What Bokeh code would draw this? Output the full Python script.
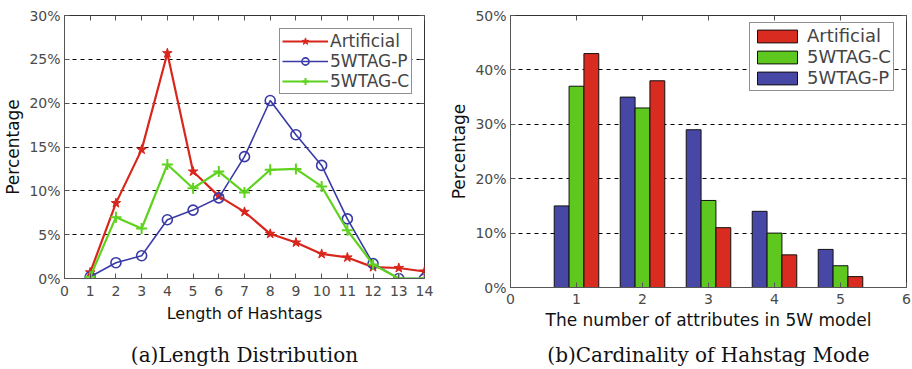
from bokeh.plotting import figure
from bokeh.layouts import row, column
from bokeh.models import (ColumnDataSource, FixedTicker, PrintfTickFormatter, LinearAxis,
                          Range1d, Legend, LegendItem)
from bokeh.transform import dodge
from bokeh.embed import file_html
from bokeh.resources import INLINE

# ---- (a) length distribution of hashtags (percent) ----
lengths = list(range(1, 15))
artificial_len = [0.7, 8.6, 14.7, 25.7, 12.2, 9.4, 7.6, 5.1, 4.1, 2.8, 2.4, 1.3, 1.2, 0.8]
p_len = [0.2, 1.8, 2.6, 6.7, 7.8, 9.2, 13.9, 20.3, 16.4, 12.9, 6.8, 1.7, 0.0, 0.0]
c_len = [0.2, 7.0, 5.7, 13.0, 10.3, 12.2, 9.8, 12.4, 12.5, 10.5, 5.5, 1.6, 0.0, 0.0]

# ---- (b) number of 5W attributes per hashtag (percent) ----
attr_counts = [1, 2, 3, 4, 5]
artificial_attr = [43, 38, 11, 6, 2]
c_attr = [37, 33, 16, 10, 4]
p_attr = [15, 35, 29, 14, 7]

RED = "#d8261c"
BLUE = "#3a3aa8"
GREEN = "#5fd21e"
BAR_RED = "#d92b1f"
BAR_GREEN = "#5ec81f"
BAR_BLUE = "#4747a6"

SANS = "DejaVu Sans"
CAPTION_FONT = "DejaVu Serif"


def style_axes(p, xticks, yticks, xlabel, xlabel_size, tick_standoff, label_standoff):
    xa = p.below[0]
    ya = p.left[0]
    xa.ticker = FixedTicker(ticks=xticks)
    ya.ticker = FixedTicker(ticks=yticks)
    ya.formatter = PrintfTickFormatter(format="%d%%")
    for ax in (xa, ya):
        ax.major_tick_in = 5
        ax.major_tick_out = 0
        ax.minor_tick_line_color = None
        ax.axis_line_color = "#555555"
        ax.major_tick_line_color = "#555555"
        ax.major_label_text_font = SANS
        ax.major_label_text_font_size = "14px"
        ax.major_label_text_color = "#4a4a4a"
        ax.axis_label_text_font = SANS
        ax.axis_label_text_font_style = "normal"
        ax.axis_label_text_color = "#111111"
    xa.major_label_standoff = tick_standoff
    ya.major_label_standoff = 4
    xa.axis_label = xlabel
    xa.axis_label_text_font_size = xlabel_size
    xa.axis_label_standoff = label_standoff
    ya.axis_label = "Percentage"
    ya.axis_label_text_font_size = "17px"
    ya.axis_label_standoff = 3
    # tick marks on the top and right edges of the box
    top = LinearAxis(ticker=FixedTicker(ticks=xticks), major_tick_in=5, major_tick_out=0,
                     major_label_text_font_size="0px", minor_tick_line_color=None,
                     axis_line_color=None, major_tick_line_color="#555555")
    right = LinearAxis(ticker=FixedTicker(ticks=yticks), major_tick_in=5, major_tick_out=0,
                       major_label_text_font_size="0px", minor_tick_line_color=None,
                       axis_line_color=None, major_tick_line_color="#555555")
    p.add_layout(top, "above")
    p.add_layout(right, "right")
    p.xgrid.grid_line_color = None
    p.ygrid.grid_line_color = "black"
    p.ygrid.grid_line_dash = "4 4"
    p.ygrid.grid_line_width = 1
    p.outline_line_color = "#333333"
    p.outline_line_width = 1


def caption(p, text, standoff):
    # sub-figure caption drawn as the label of a bare axis under the x axis
    cap = LinearAxis(ticker=FixedTicker(ticks=[]), major_tick_in=0, major_tick_out=0,
                     major_label_text_font_size="0px", major_label_standoff=0,
                     minor_tick_line_color=None, axis_line_color=None,
                     major_tick_line_color=None, axis_label=text,
                     axis_label_text_font=CAPTION_FONT, axis_label_text_font_size="20px",
                     axis_label_text_font_style="normal", axis_label_text_color="#111111",
                     axis_label_standoff=standoff)
    p.add_layout(cap, "below")


# ------------------------- (a) line chart -------------------------
p1 = figure(width=446, height=369, output_backend="svg", toolbar_location=None,
            x_range=Range1d(0, 14), y_range=Range1d(0, 30),
            min_border_left=63, min_border_right=22, min_border_top=15, min_border_bottom=91)
style_axes(p1, list(range(0, 15)), [0, 5, 10, 15, 20, 25, 30], "Length of Hashtags",
           "16px", 7, 5)
caption(p1, "(a)Length Distribution", 17)

src1 = ColumnDataSource(dict(x=lengths, a=artificial_len, p=p_len, c=c_len))
la = p1.line("x", "a", source=src1, line_color=RED, line_width=2.2)
ma = p1.scatter("x", "a", source=src1, marker="star", size=10, fill_color=RED, line_color=RED)
lp = p1.line("x", "p", source=src1, line_color=BLUE, line_width=1.6)
mp = p1.scatter("x", "p", source=src1, marker="circle", size=10, fill_color=None,
                line_color=BLUE, line_width=1.6)
lc = p1.line("x", "c", source=src1, line_color=GREEN, line_width=2.2)
mc = p1.scatter("x", "c", source=src1, marker="cross", size=11, line_color=GREEN, line_width=2)

leg1 = Legend(items=[LegendItem(label="Artificial", renderers=[la, ma]),
                     LegendItem(label="5WTAG-P", renderers=[lp, mp]),
                     LegendItem(label="5WTAG-C", renderers=[lc, mc])],
              location=(215, 184), glyph_width=46, glyph_height=18, label_height=18,
              label_text_font=SANS, label_text_font_size="17px",
              label_standoff=2, spacing=0, padding=2, margin=0,
              border_line_color="#222222", border_line_width=1.5,
              background_fill_alpha=1)
p1.add_layout(leg1)

# ------------------------- (b) bar chart -------------------------
p2 = figure(width=466, height=369, output_backend="svg", toolbar_location=None,
            x_range=Range1d(0, 6), y_range=Range1d(0, 50),
            min_border_left=63, min_border_right=6, min_border_top=15, min_border_bottom=82)
style_axes(p2, list(range(0, 7)), [0, 10, 20, 30, 40, 50],
           "The number of attributes in 5W model", "17px", 6, 3)
caption(p2, "(b)Cardinality of Hahstag Mode", 10)

src2 = ColumnDataSource(dict(x=attr_counts, a=artificial_attr, c=c_attr, p=p_attr))
w = 0.225
bp = p2.vbar(x=dodge("x", -w, range=p2.x_range), top="p", width=w, source=src2,
             fill_color=BAR_BLUE, line_color="#111111", line_width=1)
bc = p2.vbar(x=dodge("x", 0, range=p2.x_range), top="c", width=w, source=src2,
             fill_color=BAR_GREEN, line_color="#111111", line_width=1)
ba = p2.vbar(x=dodge("x", w, range=p2.x_range), top="a", width=w, source=src2,
             fill_color=BAR_RED, line_color="#111111", line_width=1)

leg2 = Legend(items=[LegendItem(label="Artificial", renderers=[ba]),
                     LegendItem(label="5WTAG-C", renderers=[bc]),
                     LegendItem(label="5WTAG-P", renderers=[bp])],
              location=(239, 196), glyph_width=50, glyph_height=16, label_height=16,
              label_text_font=SANS, label_text_font_size="18px",
              label_standoff=5, spacing=0, padding=2, margin=0,
              border_line_color="#222222", border_line_width=1.5,
              background_fill_alpha=1)
p2.add_layout(leg2)

# each chart sits in its own column so the two frames are laid out independently
layout = row(column(p1), column(p2))
open("out.html", "w").write(file_html(layout, INLINE))
